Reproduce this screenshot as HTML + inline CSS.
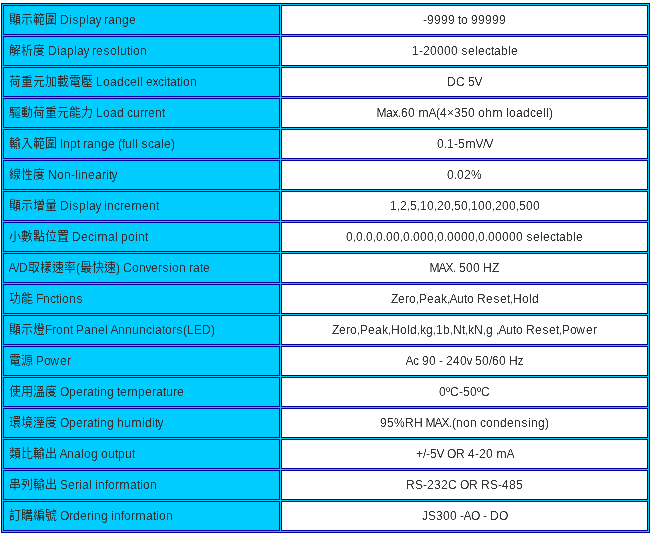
<!DOCTYPE html>
<html lang="zh-Hant">
<head>
<meta charset="utf-8">
<title>Specification</title>
<style>
html,body{margin:0;padding:0;background:#fff;}
body{width:650px;height:535px;overflow:hidden;position:relative;font-family:"Liberation Sans","Noto Sans CJK TC",sans-serif;font-size:12px;color:#333;}
table{position:absolute;left:1px;top:3px;width:649px;height:530px;border:1px solid #000099;border-spacing:1px;border-collapse:separate;background:#00ccff;table-layout:fixed;}
td{border:1px solid #000099;padding:0;height:28px;line-height:0;vertical-align:top;white-space:nowrap;overflow:hidden;}
td.l{background:#00ccff;}
td.r{background:#fff;}
td svg{display:block;overflow:hidden;}
text{font-family:"Liberation Sans","Noto Sans CJK TC",sans-serif;font-size:12px;font-weight:normal;fill:#333;white-space:pre;}
svg.f{position:absolute;width:0;height:0;}
</style>
</head>
<body>
<svg class="f" aria-hidden="true"><defs><filter id="crisp" x="0" y="0" width="100%" height="100%" color-interpolation-filters="sRGB"><feComponentTransfer><feFuncA type="linear" slope="2.5" intercept="-0.75"/></feComponentTransfer></filter></defs></svg>
<table>
<colgroup><col style="width:277px"><col style="width:367px"></colgroup>
<tr><td class="l"><svg width="275" height="28" viewBox="0 0 275 28"><text filter="url(#crisp)" x="5 17 29 41 53 56 65 68.5 75 82 85 91.5 97 100 104 111 118 125" y="18">顯示範圍 Display range</text></svg></td><td class="r"><svg width="365" height="28" viewBox="0 0 365 28"><text filter="url(#crisp)" x="141 145 152 159 166 173 176 179 186 189 196 203 210 217" y="18">-9999 to 99999</text></svg></td></tr>
<tr><td class="l"><svg width="275" height="28" viewBox="0 0 275 28"><text filter="url(#crisp)" x="5 17 29 41 44 53 56 63 70 73 79.5 85 88 92 99.5 106 113 116 123 126 129 136" y="18">解析度 Diaplay resolution</text></svg></td><td class="r"><svg width="365" height="28" viewBox="0 0 365 28"><text filter="url(#crisp)" x="130 137 141 148 155 162 169 176 179.5 186 193 196 203 209 212 219 226 229" y="18">1-20000 selectable</text></svg></td></tr>
<tr><td class="l"><svg width="275" height="28" viewBox="0 0 275 28"><text filter="url(#crisp)" x="5 17 29 41 53 65 77 89 92 99 106 113 120 126 133 136 139 142 148.5 154 160 163 166 173 176 179 186" y="18">荷重元加載電壓 Loadcell excitation</text></svg></td><td class="r"><svg width="365" height="28" viewBox="0 0 365 28"><text filter="url(#crisp)" x="165 174 183 186 192.5" y="18">DC 5V</text></svg></td></tr>
<tr><td class="l"><svg width="275" height="28" viewBox="0 0 275 28"><text filter="url(#crisp)" x="5 17 29 41 53 65 77 89 92 99 106 113 120 123 129 136 140 144 151 158" y="18">驅動荷重元能力 Load current</text></svg></td><td class="r"><svg width="365" height="28" viewBox="0 0 365 28"><text filter="url(#crisp)" x="94.5 104 110.5 116 119 126 133 136.5 146.5 154 158 165 172 179 186 193 196 203 210.5 221 224 227 234 241 248 254 261 264 267" y="18">Max.60 mA(4×350 ohm loadcell)</text></svg></td></tr>
<tr><td class="l"><svg width="275" height="28" viewBox="0 0 275 28"><text filter="url(#crisp)" x="5 17 29 41 53 56 59 66 73 76 79 83 90 97 104 111 114 118 121 128 131 134 137.5 144 150 157 160 167" y="18">輸入範圍 Inpt range (full scale)</text></svg></td><td class="r"><svg width="365" height="28" viewBox="0 0 365 28"><text filter="url(#crisp)" x="155 162 165 172 176 183.5 193.5 201 203.5" y="18">0.1-5mV/V</text></svg></td></tr>
<tr><td class="l"><svg width="275" height="28" viewBox="0 0 275 28"><text filter="url(#crisp)" x="5 17 29 41 44 53 60 67 71 74 77 84 91 98 102 105 107.5" y="18">線性度 Non-linearity</text></svg></td><td class="r"><svg width="365" height="28" viewBox="0 0 365 28"><text filter="url(#crisp)" x="165 172 175 182 189" y="18">0.02%</text></svg></td></tr>
<tr><td class="l"><svg width="275" height="28" viewBox="0 0 275 28"><text filter="url(#crisp)" x="5 17 29 41 53 56 65 68.5 75 82 85 91.5 97 100 103 110 116 120 127.5 138 145 152" y="18">顯示增量 Display increment</text></svg></td><td class="r"><svg width="365" height="28" viewBox="0 0 365 28"><text filter="url(#crisp)" x="108 115 118 125 128 135 138 145 152 155 162 169 172 179 186 189 196 203 210 213 220 227 234 237 244 251" y="18">1,2,5,10,20,50,100,200,500</text></svg></td></tr>
<tr><td class="l"><svg width="275" height="28" viewBox="0 0 275 28"><text filter="url(#crisp)" x="5 17 29 41 53 65 68 77 84 90 93.5 104 111 114 117 124 131 134 141" y="18">小數點位置 Decimal point</text></svg></td><td class="r"><svg width="365" height="28" viewBox="0 0 365 28"><text filter="url(#crisp)" x="64 71 74 81 84 91 94 101 104 111 118 121 128 131 138 145 152 155 162 165 172 179 186 193 196 203 206 213 220 227 234 241 244.5 251 258 261 268 274 277 284 291 294" y="18">0,0.0,0.00,0.000,0.0000,0.00000 selectable</text></svg></td></tr>
<tr><td class="l"><svg width="275" height="28" viewBox="0 0 275 28"><text filter="url(#crisp)" x="4.5 12 15 24 36 48 60 72 76 88 100 112 116 119 128 135 141.5 147 154 158.5 165 168 175 182 185 189 196 199" y="18">A/D取樣速率(最快速) Conversion rate</text></svg></td><td class="r"><svg width="365" height="28" viewBox="0 0 365 28"><text filter="url(#crisp)" x="147.5 156.5 163.5 171 174 177 184 191 198 201 210" y="18">MAX. 500 HZ</text></svg></td></tr>
<tr><td class="l"><svg width="275" height="28" viewBox="0 0 275 28"><text filter="url(#crisp)" x="5 17 29 32 39 46 52 55 58 65 72.5" y="18">功能 Fnctions</text></svg></td><td class="r"><svg width="365" height="28" viewBox="0 0 365 28"><text filter="url(#crisp)" x="109 116 123 127 134 137 145 152 159 165 167.5 175 182 185 192 195 204 211.5 218 225 228 231 240 247 250" y="18">Zero,Peak,Auto Reset,Hold</text></svg></td></tr>
<tr><td class="l"><svg width="275" height="28" viewBox="0 0 275 28"><text filter="url(#crisp)" x="5 17 29 41 48 52 59 66 69 72 80 87 94 101 104 106.5 114 121 128 135 142 148 151 158 161 168 172.5 179 183 190 198 207" y="18">顯示燈Front Panel Annunciators(LED)</text></svg></td><td class="r"><svg width="365" height="28" viewBox="0 0 365 28"><text filter="url(#crisp)" x="50 57 64 68 75 78 86 93 100 106 109 118 125 128 135 138 144 151 154 161 168 171 180 183 186 192 201 204 211 214 216.5 224 231 234 241 244 253 260.5 267 274 277 280 288 294.25 304 311" y="18">Zero,Peak,Hold,kg,1b,Nt,kN,g ,Auto Reset,Power</text></svg></td></tr>
<tr><td class="l"><svg width="275" height="28" viewBox="0 0 275 28"><text filter="url(#crisp)" x="5 17 29 32 40 46.25 56 63" y="18">電源 Power</text></svg></td><td class="r"><svg width="365" height="28" viewBox="0 0 365 28"><text filter="url(#crisp)" x="123.5 131 137 140 147 154 157 161 164 171 178 184.5 190 193 200 207 210 217 224 227 235.5" y="18">Ac 90 - 240v 50/60 Hz</text></svg></td></tr>
<tr><td class="l"><svg width="275" height="28" viewBox="0 0 275 28"><text filter="url(#crisp)" x="5 17 29 41 53 56 65 72 79 83 90 93 96 103 110 113 116 123.5 134 141 148 152 159 162 169 173" y="18">使用溫度 Operating temperature</text></svg></td><td class="r"><svg width="365" height="28" viewBox="0 0 365 28"><text filter="url(#crisp)" x="157 164 168 177 181 188 195 199" y="18">0ºC-50ºC</text></svg></td></tr>
<tr><td class="l"><svg width="275" height="28" viewBox="0 0 275 28"><text filter="url(#crisp)" x="5 17 29 41 53 56 65 72 79 83 90 93 96 103 110 113 120 127.5 138 141 148 151 153.5" y="18">環境溼度 Operating humidity</text></svg></td><td class="r"><svg width="365" height="28" viewBox="0 0 365 28"><text filter="url(#crisp)" x="98 105 112 123 132 141 143.5 152.5 159.5 167 170 174 181 188 195 198 204 211 218 225 232 239.5 246 249 256 263" y="18">95%RH MAX.(non condensing)</text></svg></td></tr>
<tr><td class="l"><svg width="275" height="28" viewBox="0 0 275 28"><text filter="url(#crisp)" x="5 17 29 41 53 55.5 63 70 77 80 87 94 97 104 111 114 121 128" y="18">類比輸出 Analog output</text></svg></td><td class="r"><svg width="365" height="28" viewBox="0 0 365 28"><text filter="url(#crisp)" x="134 141 144 148 154.5 162 165 174 183 186 193 197 204 211 214.5 224.5" y="18">+/-5V OR 4-20 mA</text></svg></td></tr>
<tr><td class="l"><svg width="275" height="28" viewBox="0 0 275 28"><text filter="url(#crisp)" x="5 17 29 41 53 56 64 71 75 78 85 88 91 94 101 104 111 115.5 126 133 136 139 146" y="18">串列輸出 Serial information</text></svg></td><td class="r"><svg width="365" height="28" viewBox="0 0 365 28"><text filter="url(#crisp)" x="124 133 141 145 152 159 166 175 178 187 196 199 208 216 220 227 234" y="18">RS-232C OR RS-485</text></svg></td></tr>
<tr><td class="l"><svg width="275" height="28" viewBox="0 0 275 28"><text filter="url(#crisp)" x="5 17 29 41 53 56 65 69 76 83 87 90 97 104 107 110 117 120 127 131.5 142 149 152 155 162" y="18">訂購編號 Ordering information</text></svg></td><td class="r"><svg width="365" height="28" viewBox="0 0 365 28"><text filter="url(#crisp)" x="140 146 154 161 168 175 178 181.5 189 198 201 205 208 217" y="18">JS300 -AO - DO</text></svg></td></tr>
</table>
</body>
</html>
